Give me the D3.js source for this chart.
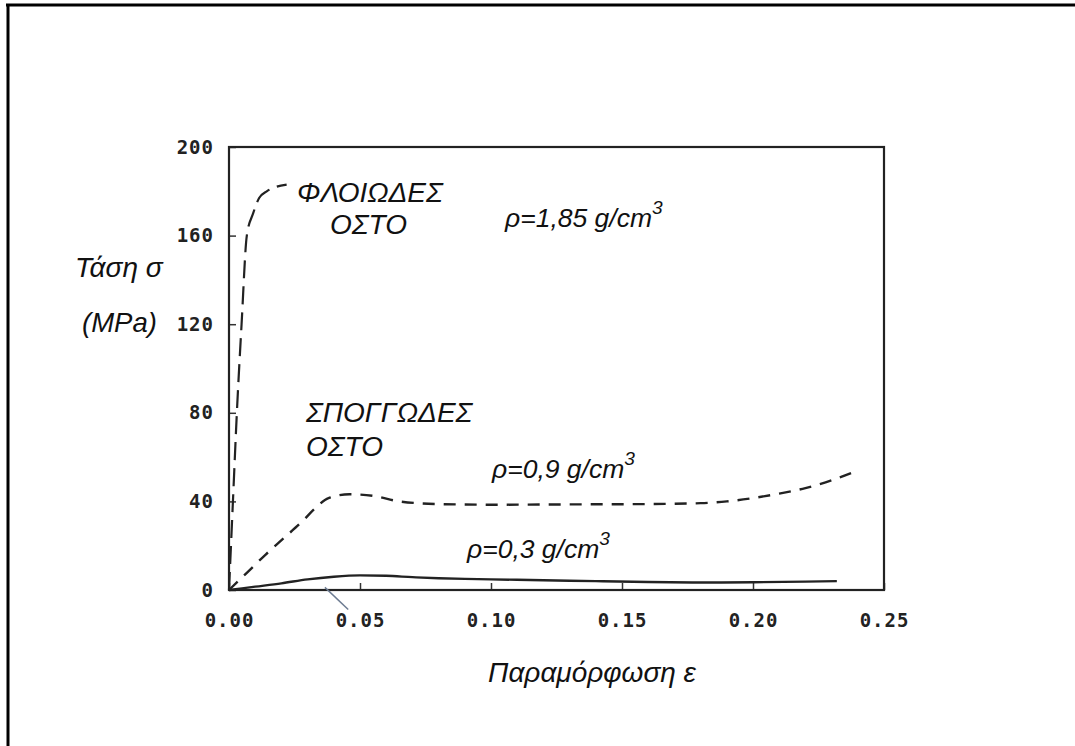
<!DOCTYPE html>
<html>
<head>
<meta charset="utf-8">
<script src="https://cdn.jsdelivr.net/npm/d3@7"></script>
<style>
  body { margin: 0; background: #fff; }
  svg { display: block; }
  .tick text { font-family: "DejaVu Sans Mono", "Liberation Mono", monospace; font-weight: bold; font-size: 19px; fill: #222; letter-spacing: 1px; }
  .note { font-family: "Liberation Sans", Arial, sans-serif; font-style: italic; fill: #111; }
</style>
</head>
<body>
<div id="chart"></div>
<script>
// strain values (ε) and stress (MPa)
const xTicks = [0, 0.05, 0.10, 0.15, 0.20, 0.25];
const yTicks = [0, 40, 80, 120, 160, 200];

const corticalStrain = [0, 0.0015, 0.003, 0.0048, 0.0068, 0.0092, 0.0115, 0.0144, 0.018, 0.022];
const corticalStress = [0, 40, 80, 120, 160, 170, 177, 180, 182, 183];

const sponge09Strain = [0, 0.007, 0.014, 0.021, 0.028, 0.033, 0.038, 0.046, 0.055, 0.065, 0.08, 0.10, 0.12, 0.14, 0.16, 0.18, 0.19, 0.20, 0.21, 0.22, 0.23, 0.238];
const sponge09Stress = [0, 8, 16, 23.5, 31, 37, 41.5, 43.2, 42.5, 40, 38.8, 38.5, 38.6, 38.7, 38.8, 39.2, 40, 41.5, 43.5, 46, 49.5, 53];

const sponge03Strain = [0, 0.01, 0.02, 0.03, 0.04, 0.05, 0.06, 0.07, 0.08, 0.09, 0.10, 0.12, 0.14, 0.16, 0.18, 0.20, 0.22, 0.232];
const sponge03Stress = [0, 1.5, 3, 4.8, 6, 6.6, 6.4, 5.8, 5.3, 5, 4.8, 4.4, 4, 3.6, 3.4, 3.5, 3.8, 4];

const W = 1075, H = 746;
const margin = { left: 229, right: 191, top: 147, bottom: 156 };

const svg = d3.select('#chart').append('svg')
  .attr('width', W)
  .attr('height', H);

// page frame (scan edge)
svg.append('line').attr('x1', 8).attr('x2', 8).attr('y1', 4).attr('y2', H)
  .attr('stroke', '#000').attr('stroke-width', 3);
svg.append('line').attr('x1', 6).attr('x2', W).attr('y1', 5).attr('y2', 5)
  .attr('stroke', '#000').attr('stroke-width', 3);

const x = d3.scaleLinear().domain([0, 0.25]).range([margin.left, W - margin.right]);
const y = d3.scaleLinear().domain([0, 200]).range([H - margin.bottom, margin.top]);

// x & y axis, ticks pointing inward
const xAxis = svg.append('g')
  .attr('transform', `translate(0, ${y(0)})`)
  .call(d3.axisBottom(x).tickValues(xTicks).tickSize(-7).tickSizeOuter(0).tickPadding(24).tickFormat(d3.format('.2f')));
const yAxis = svg.append('g')
  .attr('transform', `translate(${x(0)}, 0)`)
  .call(d3.axisLeft(y).tickValues(yTicks).tickSize(-7).tickSizeOuter(0).tickPadding(15));
[xAxis, yAxis].forEach(a => {
  a.select('.domain').remove();
  a.selectAll('.tick line').attr('stroke', '#333').attr('stroke-width', 1.5);
});

// plot box
svg.append('rect')
  .attr('x', x(0)).attr('y', y(200))
  .attr('width', x(0.25) - x(0)).attr('height', y(0) - y(200))
  .attr('fill', 'none').attr('stroke', '#222').attr('stroke-width', 2.2);

const line = d3.line()
  .x(d => x(d[0]))
  .y(d => y(d[1]))
  .curve(d3.curveMonotoneX);

const zip = (a, b) => a.map((v, i) => [v, b[i]]);

svg.append('path')
  .datum(zip(corticalStrain, corticalStress))
  .attr('d', line)
  .attr('fill', 'none').attr('stroke', '#222').attr('stroke-width', 2.2)
  .attr('stroke-dasharray', '18,8');

svg.append('path')
  .datum(zip(sponge09Strain, sponge09Stress))
  .attr('d', line)
  .attr('fill', 'none').attr('stroke', '#222').attr('stroke-width', 2.4)
  .attr('stroke-dasharray', '12,9');

svg.append('path')
  .datum(zip(sponge03Strain, sponge03Stress))
  .attr('d', line)
  .attr('fill', 'none').attr('stroke', '#222').attr('stroke-width', 2.4);

// small grey leader mark near 0.05
svg.append('line')
  .attr('x1', x(0.0366)).attr('y1', y(1.2))
  .attr('x2', x(0.0455)).attr('y2', y(-8.8))
  .attr('stroke', '#6d7c92').attr('stroke-width', 1.5);

// annotations
function note(tx, ty, txt, size, sup) {
  const t = svg.append('text').attr('class', 'note')
    .attr('x', tx).attr('y', ty)
    .attr('font-size', size)
    .text(txt);
  if (sup) {
    t.append('tspan').attr('font-size', size * 0.72).attr('dy', -size * 0.5).text(sup);
  }
  return t;
}

note(297, 202, 'ΦΛΟΙΩΔΕΣ', 28);
note(330, 234, 'ΟΣΤΟ', 28);
note(505, 227, 'ρ=1,85 g/cm', 26.5, '3');
note(306, 422, 'ΣΠΟΓΓΩΔΕΣ', 28);
note(306, 456, 'ΟΣΤΟ', 28);
note(492, 478, 'ρ=0,9 g/cm', 26.5, '3');
note(467, 558, 'ρ=0,3 g/cm', 26.5, '3');

note(75, 277, 'Τάση σ', 28);
note(82, 332, '(MPa)', 27.5);
note(592, 682, 'Παραμόρφωση ε', 28).attr('text-anchor', 'middle');
</script>
</body>
</html>
